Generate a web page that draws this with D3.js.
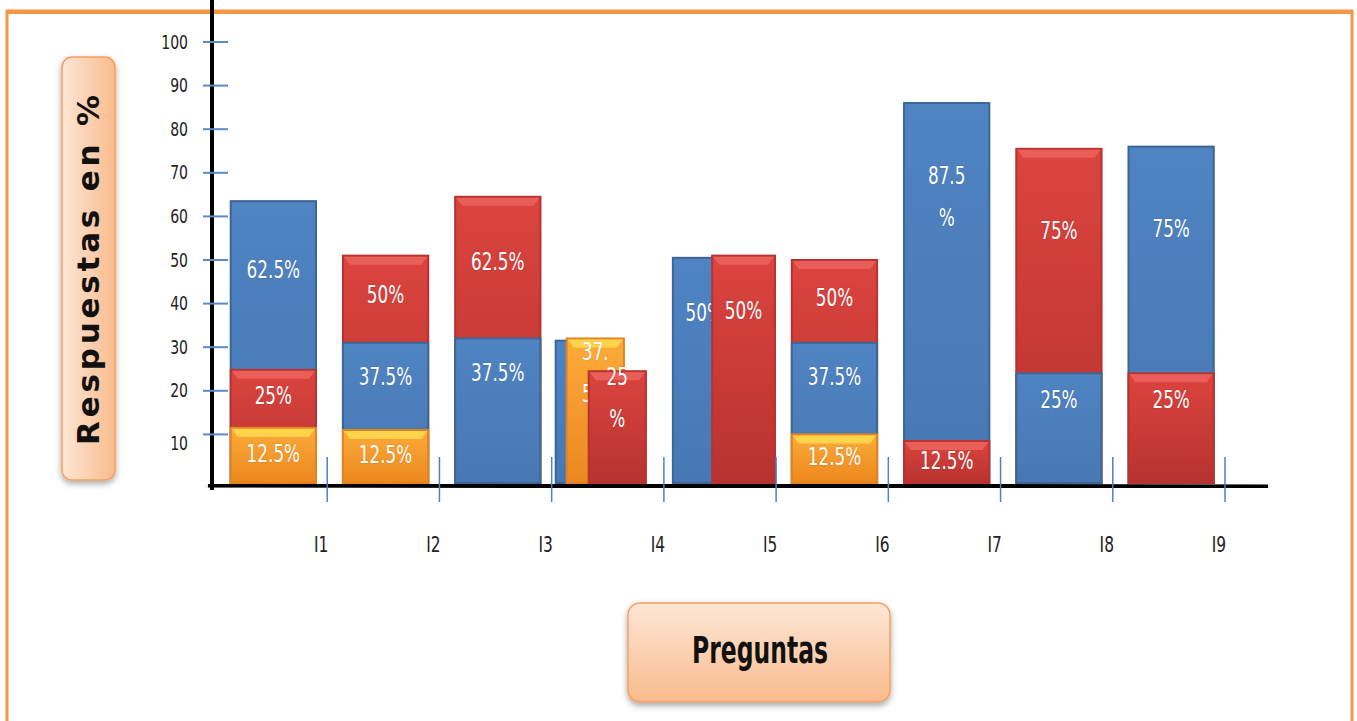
<!DOCTYPE html>
<html>
<head>
<meta charset="utf-8">
<script src="https://cdn.jsdelivr.net/npm/d3@7"></script>
<style>
  html, body { margin: 0; padding: 0; background: #ffffff; }
  svg { display: block; }
</style>
</head>
<body>
<svg id="chart" width="1357" height="721"></svg>
<script>
// ---------------- DATA ----------------
const categories = ["I1", "I2", "I3", "I4", "I5", "I6", "I7", "I8", "I9"];
const yTicks = [10, 20, 30, 40, 50, 60, 70, 80, 90, 100];

const blueValues   = [63.5, 31, 32, 31.5, 50.5, 31, 86, 24, 76];
const redValues    = [24.8, 51, 64.5, 24.5, 51, 50, 8.5, 75.5, 24];
const orangeValues = [11.5, 11, null, 32, null, 10, null, null, null];

const blueLabels   = ["62.5%", "37.5%", "37.5%", "", "50%", "37.5%", "87.5\n%", "25%", "75%"];
const redLabels    = ["25%", "50%", "62.5%", "25\n%", "50%", "50%", "12.5%", "75%", "25%"];
const orangeLabels = ["12.5%", "12.5%", "", "37.\n5%", "", "12.5%", "", "", ""];

const yTitle = "Respuestas  en %";
const xTitle = "Preguntas";

// ---------------- LAYOUT ----------------
const svg = d3.select("#chart");
const defs = svg.append("defs");

const y = d3.scaleLinear().domain([0, 100]).range([478, 42]);
const x = d3.scaleBand().domain(categories).range([215, 1225]).padding(0);
const bw = x.bandwidth();
const baseY = y(0) + 5;

// categories drawn as partly-offset clusters (offsets as band fractions, series order)
const clusterLayout = {
  I4: { offsets: [0.036, 0.134, 0.33], width: 0.51 },
  I5: { offsets: [0.08, 0.43], width: 0.56 }
};

const NARROW = 0.78;
const fontNarrow = "'DejaVu Sans Condensed', 'DejaVu Sans', sans-serif";

const seriesDefs = [
  { key: "blue",   values: blueValues,   labels: blueLabels,   fill: "url(#gBlue)",   stroke: "#3b6698", bevel: null },
  { key: "orange", values: orangeValues, labels: orangeLabels, fill: "url(#gOrange)", stroke: "#e0841f", bevel: "#ffd84e" },
  { key: "red",    values: redValues,    labels: redLabels,    fill: "url(#gRed)",    stroke: "#b8332f", bevel: "#ea625c" }
];

// ---------------- DEFS ----------------
function vGrad(id, stops) {
  const g = defs.append("linearGradient").attr("id", id)
    .attr("x1", 0).attr("y1", 0).attr("x2", 0).attr("y2", 1);
  stops.forEach(s => g.append("stop").attr("offset", s[0]).attr("stop-color", s[1]));
}
function hGrad(id, stops) {
  const g = defs.append("linearGradient").attr("id", id)
    .attr("x1", 0).attr("y1", 0).attr("x2", 1).attr("y2", 0);
  stops.forEach(s => g.append("stop").attr("offset", s[0]).attr("stop-color", s[1]));
}
vGrad("gBlue",   [["0%", "#4f83c2"], ["100%", "#4878b3"]]);
vGrad("gRed",    [["0%", "#dc443f"], ["100%", "#b7322f"]]);
vGrad("gOrange", [["0%", "#fbab3a"], ["100%", "#ec871e"]]);
vGrad("gBoxV",   [["0%", "#fde6d6"], ["100%", "#f9bb8c"]]);
hGrad("gBoxH",   [["0%", "#fde6d6"], ["100%", "#f9bb8c"]]);

const shadow = defs.append("filter").attr("id", "shadow")
  .attr("x", "-20%").attr("y", "-20%").attr("width", "140%").attr("height", "160%");
shadow.append("feDropShadow").attr("dx", 0).attr("dy", 3).attr("stdDeviation", 3)
  .attr("flood-color", "#000").attr("flood-opacity", 0.35);

// narrow text helper (horizontal compression of a condensed face)
function narrowText(parent, cx, cy, str, size, anchor, fill, sx) {
  const g = parent.append("g").attr("transform", `translate(${cx},${cy}) scale(${sx || NARROW},1)`);
  return g.append("text")
    .attr("x", 0).attr("y", 0)
    .attr("text-anchor", anchor).attr("dominant-baseline", "middle")
    .attr("font-family", fontNarrow).attr("font-size", size).attr("fill", fill)
    .text(str);
}

// ---------------- FRAME ----------------
svg.append("rect").attr("x", 7).attr("y", 11).attr("width", 1345).attr("height", 760)
  .attr("fill", "none").attr("stroke", "#f79646").attr("stroke-width", 3);
svg.append("line").attr("x1", 7).attr("x2", 1352).attr("y1", 12).attr("y2", 12)
  .attr("stroke", "#f79646").attr("stroke-width", 4);

// ---------------- AXES ----------------
svg.append("line").attr("x1", 208).attr("x2", 1268).attr("y1", baseY + 2).attr("y2", baseY + 4)
  .attr("stroke", "#000").attr("stroke-width", 5).attr("filter", "url(#shadow)");
svg.append("line").attr("x1", 212).attr("x2", 212).attr("y1", 0).attr("y2", baseY + 7)
  .attr("stroke", "#000").attr("stroke-width", 4);

const yAxis = svg.append("g");
yAxis.selectAll("line.tick").data(yTicks).join("line")
  .attr("x1", 203).attr("x2", 228)
  .attr("y1", d => y(d)).attr("y2", d => y(d))
  .attr("stroke", "#5b8ac6").attr("stroke-width", 2);
yTicks.forEach(d => {
  narrowText(yAxis, 188, y(d) + (d === 10 ? 10 : 1), d, 20, "end", "#222");
});

// ---------------- BARS ----------------
categories.forEach((c, i) => {
  const g = svg.append("g");
  const cl = clusterLayout[c];
  let bars = seriesDefs
    .filter(s => s.values[i] != null)
    .map(s => ({ s, v: s.values[i], label: s.labels[i] }));

  if (cl) {
    bars.forEach((b, k) => { b.x = x(c) + cl.offsets[k] * bw; b.w = cl.width * bw; b.visBottom = baseY; b.covered = false; });
  } else {
    bars.sort((a, b) => b.v - a.v);
    bars.forEach((b, k) => {
      b.x = x(c) + 0.14 * bw; b.w = 0.76 * bw;
      b.covered = k < bars.length - 1;
      b.visBottom = b.covered ? y(bars[k + 1].v) : baseY;
    });
  }

  bars.forEach(b => {
    const top = y(b.v);
    const h = baseY - top;
    g.append("rect")
      .attr("x", b.x).attr("y", top).attr("width", b.w).attr("height", h)
      .attr("fill", b.s.fill).attr("stroke", b.s.stroke).attr("stroke-width", 2);
    if (b.s.bevel) {
      const bv = Math.min(9, h / 3);
      g.append("path")
        .attr("d", `M${b.x + 1},${top + 1} L${b.x + b.w - 1},${top + 1} L${b.x + b.w - 7},${top + bv} L${b.x + 7},${top + bv} Z`)
        .attr("fill", b.s.bevel).attr("opacity", 0.9);
    }
    if (b.label) {
      const visH = b.visBottom - top;
      const off = Math.min(visH * (b.covered ? 0.47 : 0.5), Math.max(h * 0.25, 28));
      const cy = top + off;
      const lines = b.label.split("\n");
      const lh = 42;
      lines.forEach((ln, li) => {
        narrowText(g, b.x + b.w / 2, cy - (lines.length - 1) * lh / 2 + li * lh, ln, 24, "middle", "#ffffff")
          .attr("stroke", "rgba(0,0,0,0.15)").attr("stroke-width", 1).attr("paint-order", "stroke");
      });
    }
  });
});

// x ticks & labels
const xAxis = svg.append("g");
xAxis.selectAll("line").data(categories).join("line")
  .attr("x1", d => x(d) + bw).attr("x2", d => x(d) + bw)
  .attr("y1", baseY - 26).attr("y2", baseY + 19)
  .attr("stroke", "#4f81bd").attr("stroke-width", 1.5);
categories.forEach(d => {
  narrowText(xAxis, x(d) + bw - 6, 546, d, 22, "middle", "#222");
});

// ---------------- TITLES ----------------
const yBox = svg.append("g");
yBox.append("rect").attr("x", 62).attr("y", 57).attr("width", 53).attr("height", 423)
  .attr("rx", 10).attr("fill", "url(#gBoxH)").attr("stroke", "#f5a05e").attr("stroke-width", 1.5)
  .attr("filter", "url(#shadow)");
yBox.append("text")
  .attr("transform", "translate(90,270) rotate(-90)")
  .attr("text-anchor", "middle").attr("dominant-baseline", "middle")
  .attr("font-family", "'DejaVu Sans', sans-serif").attr("font-weight", "bold")
  .attr("font-size", 31).attr("fill", "#111")
  .attr("textLength", 350).attr("lengthAdjust", "spacing")
  .text(yTitle);

const xBox = svg.append("g");
xBox.append("rect").attr("x", 628).attr("y", 603).attr("width", 262).attr("height", 99)
  .attr("rx", 12).attr("fill", "url(#gBoxV)").attr("stroke", "#f5a05e").attr("stroke-width", 1.5)
  .attr("filter", "url(#shadow)");
xBox.append("text")
  .attr("x", 760).attr("y", 652)
  .attr("text-anchor", "middle").attr("dominant-baseline", "middle")
  .attr("font-family", fontNarrow).attr("font-weight", "bold")
  .attr("font-size", 38).attr("fill", "#111")
  .attr("textLength", 136).attr("lengthAdjust", "spacingAndGlyphs")
  .text(xTitle);
</script>
</body>
</html>
